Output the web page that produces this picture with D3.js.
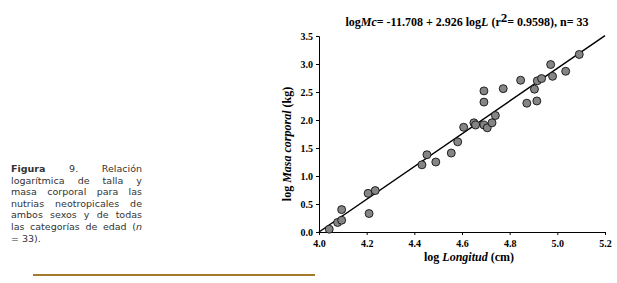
<!DOCTYPE html>
<html>
<head>
<meta charset="utf-8">
<script src="https://cdn.jsdelivr.net/npm/d3@7"></script>
<style>
  body { margin: 0; background: #fff; }
  #wrap { position: relative; width: 617px; height: 283px; }
  #caption { position: absolute; left: 11px; top: 163px; width: 131px;
    font-family: "DejaVu Sans", sans-serif; font-size: 9.5px; line-height: 11.6px; color: #333; }
  #caption div { text-align: justify; text-align-last: justify; white-space: nowrap; }
  #caption div.last { text-align-last: left; }
</style>
</head>
<body>
<div id="wrap">
  <svg id="chart" width="617" height="283"></svg>
  <div id="caption"></div>
</div>
<script>
// datos
const longitud = [4.043, 4.078, 4.095, 4.095, 4.206, 4.21, 4.236, 4.432, 4.453, 4.49,
  4.555, 4.582, 4.607, 4.65, 4.657, 4.692, 4.692, 4.692, 4.706, 4.726, 4.74, 4.773,
  4.846, 4.872, 4.904, 4.914, 4.916, 4.934, 4.972, 4.98, 5.035, 5.092];
const masa = [0.05, 0.17, 0.21, 0.40, 0.69, 0.33, 0.74, 1.20, 1.38, 1.25,
  1.41, 1.61, 1.87, 1.95, 1.91, 2.52, 2.32, 1.91, 1.86, 1.95, 2.08, 2.56,
  2.71, 2.30, 2.55, 2.34, 2.70, 2.74, 2.99, 2.78, 2.87, 3.17];
const intercepto = -11.708;
const pendiente = 2.926;
const xTicks = [4.0, 4.2, 4.4, 4.6, 4.8, 5.0, 5.2];
const yTicks = [0.0, 0.5, 1.0, 1.5, 2.0, 2.5, 3.0, 3.5];
const captionLines = [
  '<b>Figura</b> 9. Relación',
  'logarítmica de talla y',
  'masa corporal para las',
  'nutrias neotropicales de',
  'ambos sexos y de todas',
  'las categorías de edad (<i>n</i>',
  '= 33).'
];

const svg = d3.select('#chart');
const serif = '"Liberation Serif", "Times New Roman", serif';

const x = d3.scaleLinear().domain([4.0, 5.2]).range([319, 605]);
const y = d3.scaleLinear().domain([0, 3.5]).range([232, 36]);

// ejes
const xAxis = svg.append('g')
  .attr('transform', `translate(0,${y(0)})`)
  .call(d3.axisBottom(x).tickValues(xTicks).tickFormat(d3.format('.1f')).tickSizeOuter(0).tickSize(3));
const yAxis = svg.append('g')
  .attr('transform', `translate(${x(4.0)},0)`)
  .call(d3.axisLeft(y).tickValues(yTicks).tickFormat(d3.format('.1f')).tickSizeOuter(0).tickSize(3));

[xAxis, yAxis].forEach(a => {
  a.select('.domain').attr('stroke', '#000').attr('stroke-width', 1);
  a.selectAll('.tick line').attr('stroke', '#000');
  a.selectAll('.tick text')
    .attr('fill', '#000')
    .style('font-family', serif)
    .style('font-weight', 'bold')
    .style('font-size', '10px');
});
xAxis.selectAll('.tick text').attr('dy', '0.85em');
yAxis.selectAll('.tick text').attr('x', -6);

// recta de regresión
svg.append('line')
  .attr('x1', x(4.0)).attr('y1', y(Math.max(0, intercepto + pendiente * 4.0)))
  .attr('x2', x(5.2)).attr('y2', y(intercepto + pendiente * 5.2))
  .attr('stroke', '#000')
  .attr('stroke-width', 1.5);

// puntos
svg.append('g').selectAll('circle')
  .data(longitud.map((d, i) => [d, masa[i]]))
  .enter()
  .append('circle')
  .attr('cx', d => x(d[0]))
  .attr('cy', d => y(d[1]))
  .attr('r', 4)
  .attr('fill', '#858585')
  .attr('stroke', '#000')
  .attr('stroke-width', 0.8);

// título
const title = svg.append('text')
  .attr('x', 467).attr('y', 26)
  .attr('text-anchor', 'middle')
  .style('font-family', serif)
  .style('font-weight', 'bold')
  .style('font-size', '12px');
title.append('tspan').text('log');
title.append('tspan').style('font-style', 'italic').text('Mc');
title.append('tspan').text('= -11.708 + 2.926 log');
title.append('tspan').style('font-style', 'italic').text('L');
title.append('tspan').text(' (r');
title.append('tspan').attr('dy', -4).style('font-size', '13px').text('2');
title.append('tspan').attr('dy', 4).text('= 0.9598), n= 33');

// título eje x
const xt = svg.append('text')
  .attr('x', 469).attr('y', 261)
  .attr('text-anchor', 'middle')
  .style('font-family', serif)
  .style('font-weight', 'bold')
  .style('font-size', '12px');
xt.append('tspan').text('log ');
xt.append('tspan').style('font-style', 'italic').text('Longitud');
xt.append('tspan').text(' (cm)');

// título eje y
const yt = svg.append('text')
  .attr('transform', 'translate(291,144) rotate(-90)')
  .attr('text-anchor', 'middle')
  .style('font-family', serif)
  .style('font-weight', 'bold')
  .style('font-size', '12px');
yt.append('tspan').text('log ');
yt.append('tspan').style('font-style', 'italic').text('Masa corporal');
yt.append('tspan').text(' (kg)');

// línea decorativa
svg.append('line')
  .attr('x1', 33).attr('x2', 315)
  .attr('y1', 275).attr('y2', 275)
  .attr('stroke', '#a47a2c')
  .attr('stroke-width', 2);

// leyenda de la figura
d3.select('#caption').selectAll('div')
  .data(captionLines)
  .enter()
  .append('div')
  .attr('class', (d, i) => i === captionLines.length - 1 ? 'last' : null)
  .html(d => d);
</script>
</body>
</html>
